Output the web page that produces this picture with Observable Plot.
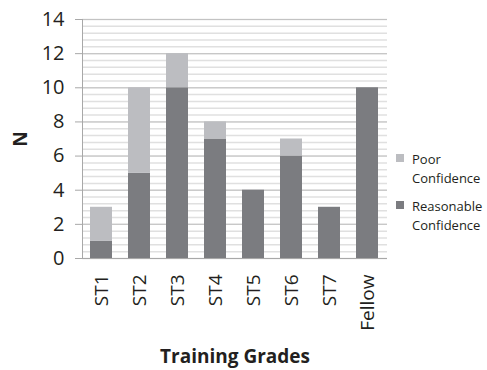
<!DOCTYPE html>
<html>
<head>
<meta charset="utf-8">
<script src="https://cdn.jsdelivr.net/npm/d3@7"></script>
<script src="https://cdn.jsdelivr.net/npm/@observablehq/plot@0.6"></script>
<style>
  body { margin: 0; background: #fff; font-family: "Open Sans", sans-serif; }
  #wrap { position: relative; width: 487px; height: 370px; }
  #legend { position: absolute; left: 396px; top: 150px; font-size: 13px; color: #231f20; line-height: 19px; }
  .item { display: flex; align-items: flex-start; margin-bottom: 9px; }
  .sw { width: 8px; height: 8px; margin-top: 4px; margin-right: 8px; flex: none; }
</style>
</head>
<body>
<div id="wrap">
  <div id="chart"></div>
  <div id="legend"></div>
</div>
<script>
const grades = ["ST1", "ST2", "ST3", "ST4", "ST5", "ST6", "ST7", "Fellow"];
const reasonable = [1, 5, 10, 7, 4, 6, 3, 10];
const poor = [2, 5, 2, 1, 0, 1, 0, 0];
const seriesNames = ["Reasonable Confidence", "Poor Confidence"];
const seriesColors = ["#7b7c80", "#bcbdc1"];
const yTicks = [0, 2, 4, 6, 8, 10, 12, 14];
const minorTicks = d3.range(0, 14.001, 0.4);

const data = [];
grades.forEach((g, i) => {
  data.push({grade: g, series: seriesNames[0], value: reasonable[i]});
  data.push({grade: g, series: seriesNames[1], value: poor[i]});
});

const chart = Plot.plot({
  width: 487,
  height: 370,
  marginLeft: 82,
  marginRight: 100,
  marginTop: 19,
  marginBottom: 112,
  style: {fontFamily: "Open Sans, sans-serif", color: "#231f20", background: "white"},
  x: {domain: grades, paddingInner: 0.42, paddingOuter: 0.21, label: null},
  y: {domain: [0, 14], label: null},
  color: {domain: seriesNames, range: seriesColors},
  marks: [
    Plot.gridY({ticks: minorTicks, stroke: "#e0e0e0", strokeOpacity: 1, strokeWidth: 1.5}),
    Plot.gridY({ticks: yTicks, stroke: "#c3c3c3", strokeOpacity: 1}),
    Plot.barY(data, Plot.stackY({x: "grade", y: "value", fill: "series", order: seriesNames})),
    Plot.ruleY([0], {stroke: "#a8a8a8"}),
    Plot.frame({anchor: "left", stroke: "#a8a8a8"}),
    Plot.axisY({ticks: yTicks, tickSize: 7, tickPadding: 11, stroke: "#a8a8a8", fontSize: 20, fill: "#231f20",
      label: "N", labelArrow: "none", labelAnchor: "center", labelOffset: 69}),
    Plot.axisX({tickRotate: -90, tickSize: 0, tickPadding: 16, fontSize: 19, fill: "#231f20",
      label: "Training Grades", labelArrow: "none", labelAnchor: "center", labelOffset: 104})
  ]
});
document.getElementById("chart").appendChild(chart);

// style axis labels bold and strip any arrow
chart.querySelectorAll("[aria-label='y-axis label'] text, [aria-label='x-axis label'] text").forEach(t => {
  t.setAttribute("font-weight", "bold");
  t.setAttribute("font-size", "19");
  t.textContent = t.textContent.replace(/[↑→←↓]/g, "").trim();
});

const legend = document.getElementById("legend");
[1, 0].forEach(i => {
  const parts = seriesNames[i].split(" ");
  const item = document.createElement("div");
  item.className = "item";
  item.innerHTML = `<div class="sw" style="background:${seriesColors[i]}"></div><div>${parts[0]}<br>${parts[1]}</div>`;
  legend.appendChild(item);
});
</script>
</body>
</html>
